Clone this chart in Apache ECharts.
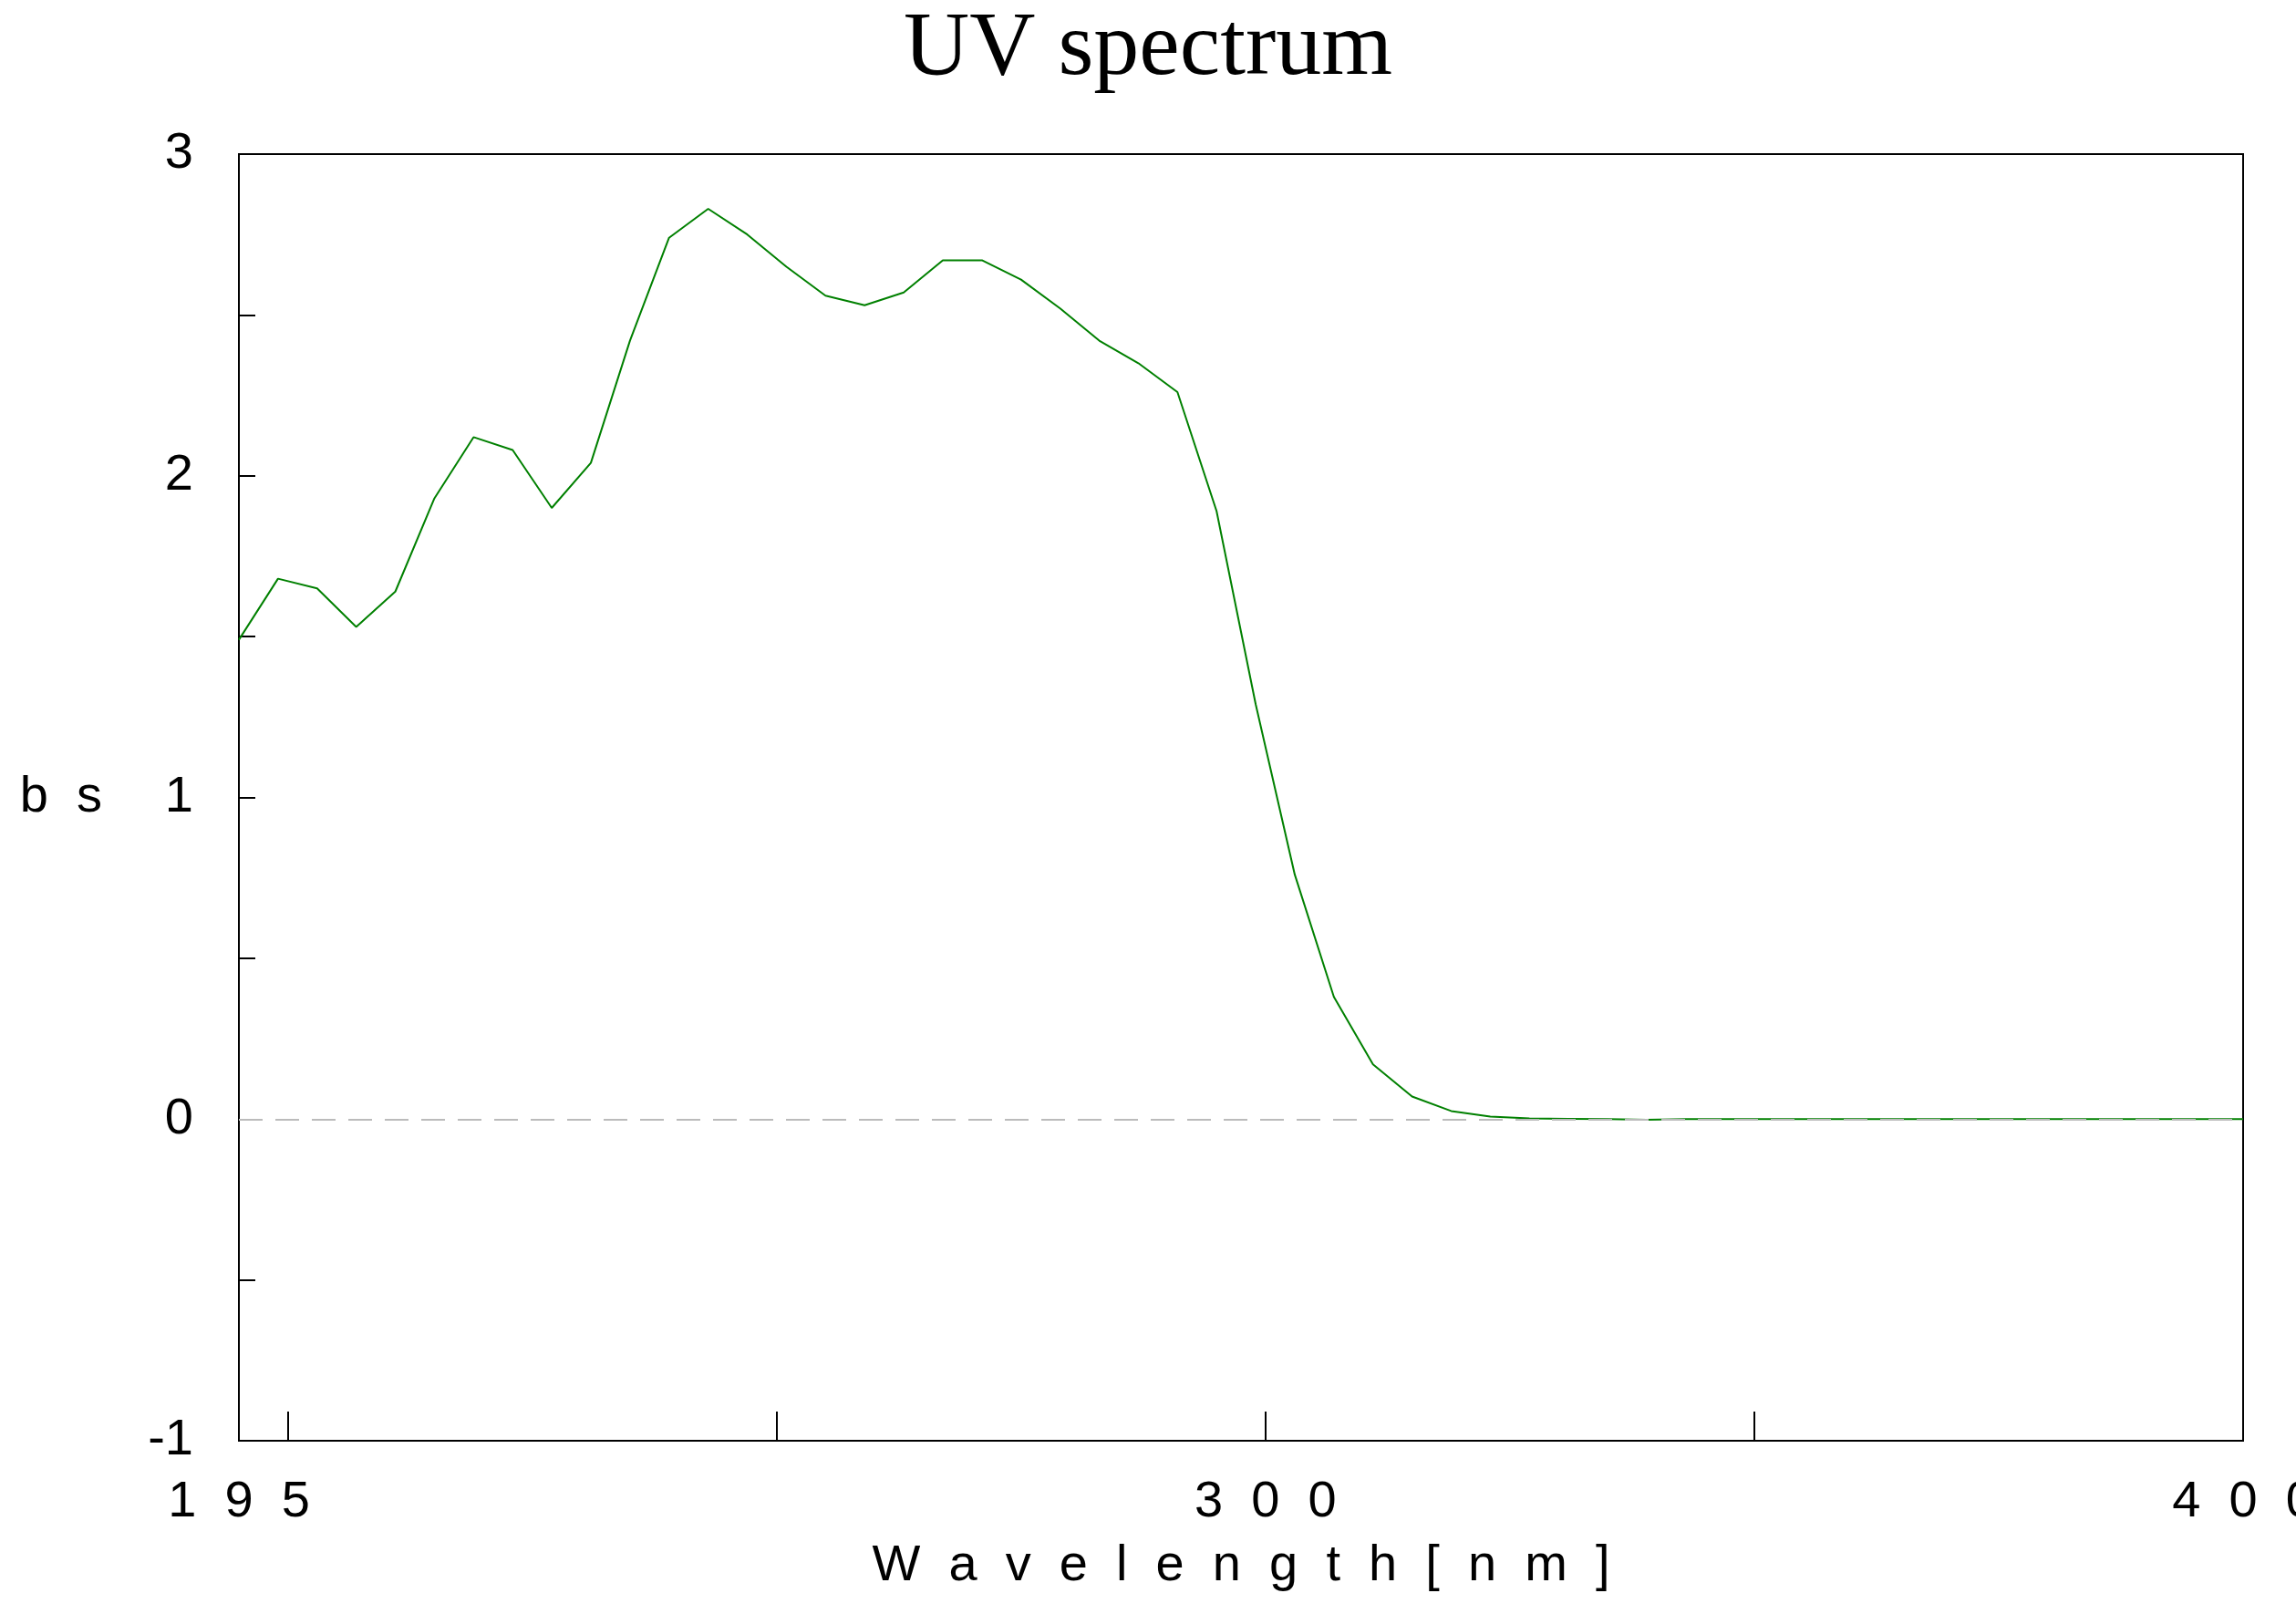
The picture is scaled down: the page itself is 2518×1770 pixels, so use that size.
<!DOCTYPE html>
<html>
<head>
<meta charset="utf-8">
<script src="https://cdn.jsdelivr.net/npm/echarts@6/dist/echarts.min.js"></script>
<style>html,body{margin:0;background:#fff}#container{width:2518px;height:1770px}</style>
</head>
<body>
<div id="container"></div>
<script>
var wavelengths = [195,199,203,207,211,215,219,223,227,231,235,239,243,247,251,255,259,263,267,271,275,279,283,287,291,295,299,303,307,311,315,319,323,327,331,335,339,343,347,351,355,359,363,367,371,375,379,383,387,391,395,399,400];
var absorbance = [1.49,1.68,1.65,1.53,1.64,1.93,2.12,2.08,1.90,2.04,2.42,2.74,2.83,2.75,2.65,2.56,2.53,2.57,2.67,2.67,2.61,2.52,2.42,2.35,2.26,1.89,1.29,0.76,0.38,0.17,0.07,0.025,0.008,0.002,0.001,0,-0.002,0,0,0,0,0,0,0,0,0,0,0,0,0,0,0,0];
var xLabels = [195, 300, 400];
var xTicks = [200, 250, 300, 350, 400];
var yLabels = [-1, 0, 1, 2, 3];
var yTicks = [-0.5, 0, 0.5, 1, 1.5, 2, 2.5];

var points = wavelengths.map(function (w, i) { return [w, absorbance[i]]; });
var spaced = function (s) { return String(s).split('').join('  '); };

var myChart = echarts.init(document.getElementById('container'));
var option = {
  backgroundColor: '#fff',
  animation: false,
  title: {
    text: 'UV spectrum', left: 'center', top: 0,
    textStyle: { fontFamily: 'Liberation Serif', fontWeight: 'normal', fontSize: 100, color: '#000' }
  },
  grid: { left: 262, right: 58, top: 169, bottom: 190, outerBoundsMode: 'none', containLabel: false, show: true, borderColor: '#000', borderWidth: 2 },
  xAxis: {
    type: 'value', min: 195, max: 400,
    name: 'W  a  v  e  l  e  n  g  t  h  [  n  m  ]', nameLocation: 'middle', nameGap: 110,
    nameTextStyle: { fontFamily: 'Liberation Sans', fontSize: 56, color: '#000' },
    axisLine: { onZero: false, lineStyle: { color: '#000', width: 2 } },
    axisTick: { inside: true, length: 32, customValues: xTicks, lineStyle: { color: '#000', width: 2 } },
    axisLabel: {
      customValues: xLabels, margin: 40, color: '#000', fontFamily: 'Liberation Sans', fontSize: 56,
      showMinLabel: true, showMaxLabel: true,
      formatter: function (v) { return spaced(v); }
    },
    splitLine: { show: false }
  },
  yAxis: {
    type: 'value', min: -1, max: 3,
    name: 'A  b  s', nameLocation: 'middle', nameRotate: 0, nameGap: 150,
    nameTextStyle: { fontFamily: 'Liberation Sans', fontSize: 56, color: '#000', padding: [0, 0, 0, 0] },
    axisLine: { onZero: false, lineStyle: { color: '#000', width: 2 } },
    axisTick: { inside: true, length: 18, customValues: yTicks, lineStyle: { color: '#000', width: 2 } },
    axisLabel: { customValues: yLabels, margin: 50, color: '#000', fontFamily: 'Liberation Sans', fontSize: 56 },
    splitLine: { show: false }
  },
  series: [{
    type: 'line', data: points, symbol: 'none',
    lineStyle: { color: '#008000', width: 2 },
    markLine: {
      silent: true, symbol: 'none', label: { show: false },
      lineStyle: { color: '#bbb', type: [26, 14], width: 2 },
      data: [{ yAxis: 0 }]
    },
    z: 3
  }]
};
myChart.setOption(option);
window.addEventListener('resize', myChart.resize);
</script>
</body>
</html>
